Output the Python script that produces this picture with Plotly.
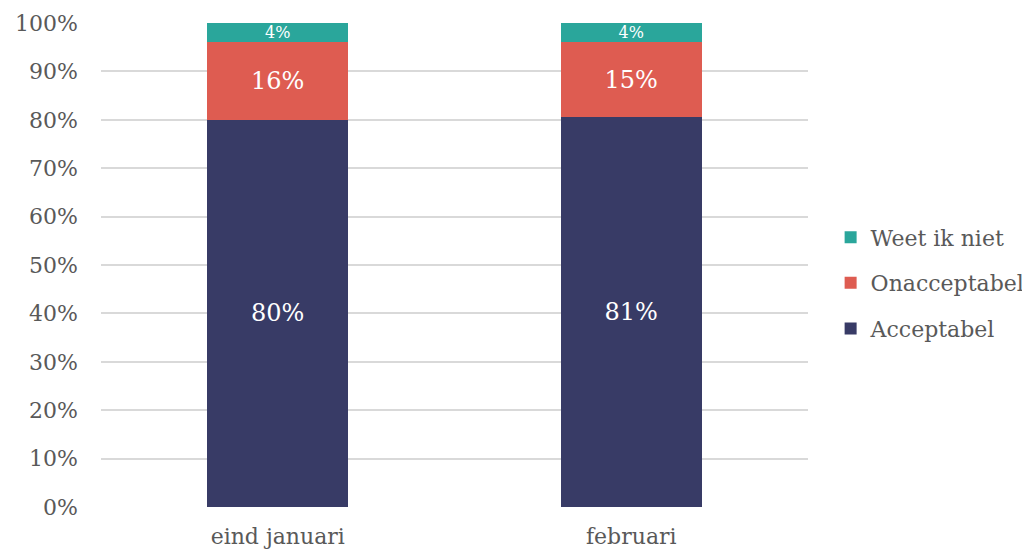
import plotly.graph_objects as go

categories = ["eind januari", "februari"]
acceptabel = [80.0, 80.6]
onacceptabel = [16.0, 15.4]
weet_niet = [4.0, 4.0]
y_ticks = [0, 10, 20, 30, 40, 50, 60, 70, 80, 90, 100]
y_tick_labels = [f"{v}%" for v in y_ticks]

FONT = "DejaVu Serif"
GRAY = "#595959"

series = [
    ("Acceptabel", acceptabel, "#383B66", 24, 3),
    ("Onacceptabel", onacceptabel, "#DE5C51", 24, 2),
    ("Weet ik niet", weet_niet, "#2AA69B", 16, 1),
]

fig = go.Figure()
for name, vals, color, tsize, rank in series:
    fig.add_trace(go.Bar(
        name=name, x=categories, y=vals, marker_color=color,
        marker_line_width=0, width=0.4, legendgroup=name, legendrank=rank,
        texttemplate="%{y:.0f}%", textposition="inside",
        insidetextanchor="middle", textangle=0, constraintext="none",
        textfont=dict(family=FONT, size=tsize, color="white"),
        hoverinfo="skip",
    ))

fig.update_layout(
    barmode="stack",
    width=1022, height=543,
    margin=dict(l=92.5, r=221.5, t=15, b=44, autoexpand=False),
    paper_bgcolor="white", plot_bgcolor="white",
    font=dict(family=FONT, color=GRAY, size=22),
    showlegend=True,
    legend=dict(x=1.032, y=0.463, xanchor="left", yanchor="middle",
                traceorder="grouped", font=dict(size=22, color=GRAY),
                itemwidth=30, tracegroupgap=14),
    xaxis=dict(range=[-0.5, 1.5], showgrid=False, zeroline=False,
               showline=False, ticks="", tickfont=dict(size=22, color=GRAY),
               ticklabelstandoff=14, automargin=False),
    yaxis=dict(range=[0, 100], tickvals=y_ticks, ticktext=y_tick_labels,
               showgrid=True, gridcolor="#D9D9D9", gridwidth=1.5,
               zeroline=False, showline=False, ticks="",
               tickfont=dict(size=22, color=GRAY), ticklabelstandoff=22,
               automargin=False),
)

fig.write_html("out.html")
